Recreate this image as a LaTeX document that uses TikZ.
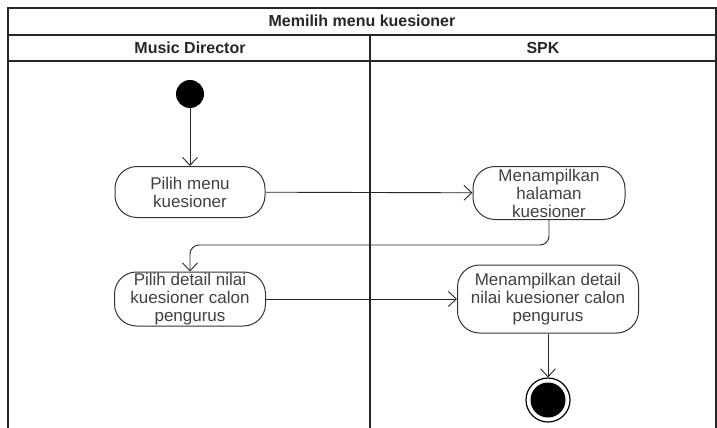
\documentclass[tikz,border=0pt]{standalone}
\usepackage{fontspec}
\setmainfont{Liberation Sans}
\usetikzlibrary{arrows.meta}
\begin{document}
\begin{tikzpicture}[x=1pt,y=-1pt,
  frame/.style={draw=black!85,line width=1.1pt},
  head/.style={font=\bfseries\fontsize{16}{18}\selectfont,text=black!85},
  act/.style={draw=black!80,line width=1pt,rounded corners=22pt,align=center,
    font=\fontsize{17}{18}\selectfont,text=black!75,inner sep=0pt},
  flow/.style={draw=black!85,line width=0.9pt,-{Straight Barb[length=8pt,width=15pt]}}
]
\useasboundingbox (0,0) rectangle (717,428);
% frame
\draw[frame] (8,428) -- (8,8) -- (716,8) -- (716,428);
\draw[frame] (8,35) -- (716,35);
\draw[frame] (8,61) -- (716,61);
\draw[frame] (370,35) -- (370,428);
\node[head] (title) at (362,21) {Memilih menu kuesioner};
\node[head] (lane1) at (190,48) {Music Director};
\node[head] (lane2) at (543,48) {SPK};
% nodes
\node[circle,fill=black,minimum size=28pt,inner sep=0pt] (start) at (190,94) {};
\node[act,minimum width=150pt,minimum height=51pt] (a1) at (190,192) {Pilih menu\\kuesioner};
\node[act,minimum width=152pt,minimum height=53pt] (a2) at (549,193) {Menampilkan\\halaman\\kuesioner};
\node[act,minimum width=151pt,minimum height=54pt] (a3) at (190,299) {Pilih detail nilai\\kuesioner calon\\pengurus};
\node[act,minimum width=181pt,minimum height=68pt] (a4) at (548,299) {Menampilkan detail\\nilai kuesioner calon\\pengurus};
\node[circle,draw=black,line width=1.2pt,minimum size=44pt,inner sep=0pt] (end) at (548,400) {};
\node[circle,fill=black,minimum size=35pt,inner sep=0pt] (endin) at (548,400) {};
% connectors
\draw[flow] (start) -- (a1);
\draw[flow] (a1) -- (a2);
\draw[flow,rounded corners=9pt] (a2.south) -- (549,245) -- (190,245) -- (a3.north);
\draw[flow] (a3) -- (a4);
\draw[flow] (a4) -- (end);
\end{tikzpicture}
\end{document}
